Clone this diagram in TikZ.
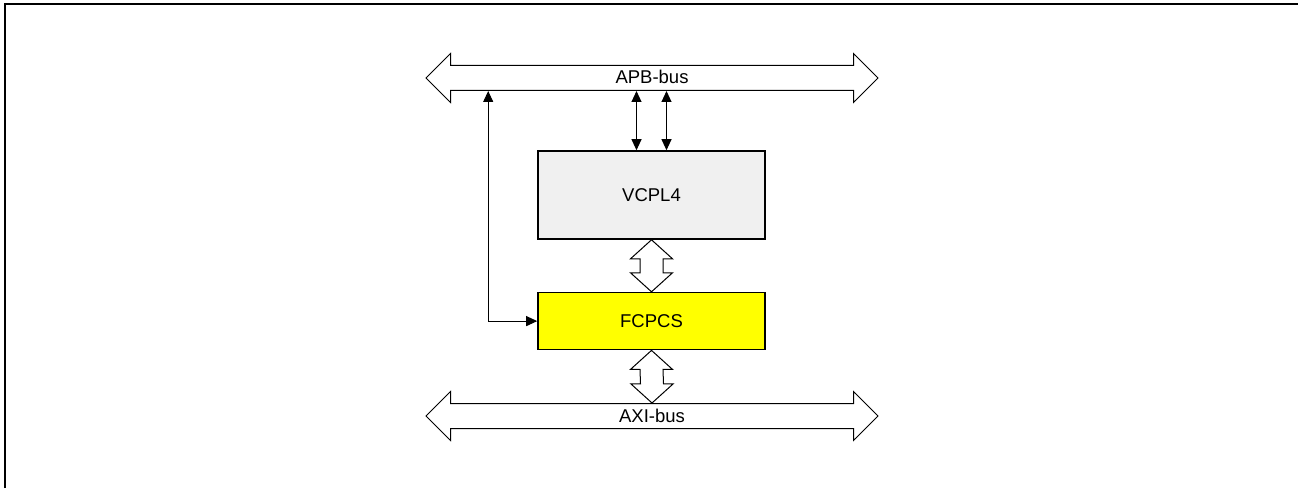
\documentclass[tikz,border=0pt]{standalone}
\usepackage{fontspec}
\setmainfont{Liberation Sans}
\usetikzlibrary{shapes.arrows, arrows.meta, positioning}
\definecolor{boxgray}{HTML}{F0F0F0}
\definecolor{boxyellow}{HTML}{FFFF00}

\begin{document}
\begin{tikzpicture}[
  x=1pt, y=1pt,
  font=\fontsize{18.5}{22}\selectfont,
  % hollow bus arrows with their label
  bus/.style={double arrow, draw, line width=1pt, fill=white,
              double arrow head extend=12pt, minimum height=452pt,
              inner xsep=0pt, inner ysep=4pt, text height=14pt, text depth=2pt},
  % main boxes
  block/.style={draw, line width=1.6pt, fill=#1, minimum width=227pt,
                inner sep=0pt},
  % hollow link between boxes
  hollow/.style={draw, line width=1pt, fill=white},
  % thin arrows
  biarr/.style={{Triangle[length=11pt,width=10pt]}-{Triangle[length=11pt,width=10pt]},
                line width=1pt},
]
\useasboundingbox (0,0) rectangle (1298,488);

% ── frame ─────────────────────────────────────────
\draw[line width=2pt] (4.5,0) -- (4.5,484) -- (1298,484);

% ── buses ─────────────────────────────────────────
\node[bus] (apb) at (652,410) {APB-bus};
\node[bus] (axi) at (652,72) {AXI-bus};

% ── boxes ─────────────────────────────────────────
\node[block=boxgray, minimum height=88pt] (vcpl) at (651.5,293) {VCPL4};
\node[block=boxyellow, minimum height=57pt, below=52pt of vcpl] (fcpcs) {FCPCS};

% ── hollow links ──────────────────────────────────
\foreach \a/\b in {vcpl/fcpcs, fcpcs/axi} {
  \draw[hollow] (\a.south) -- ++(21,-19) -- ++(-9.5,0)
    -- ([xshift=11.5pt,yshift=19pt]\b.north) -- ++(9.5,0) -- (\b.north)
    -- ++(-21,19) -- ++(9.5,0)
    -- ([xshift=-11.5pt,yshift=-19pt]\a.south) -- ++(-9.5,0) -- cycle;
}

% ── thin arrows ───────────────────────────────────
\foreach \dx in {-15,15} {
  \draw[biarr] ([xshift=\dx pt]vcpl.north) -- ([xshift=\dx pt]vcpl.north |- apb.south);
}
\coordinate (tap) at ([xshift=-49pt]fcpcs.west);
\draw[biarr] (fcpcs.west) -| (tap |- apb.south);

\end{tikzpicture}
\end{document}
